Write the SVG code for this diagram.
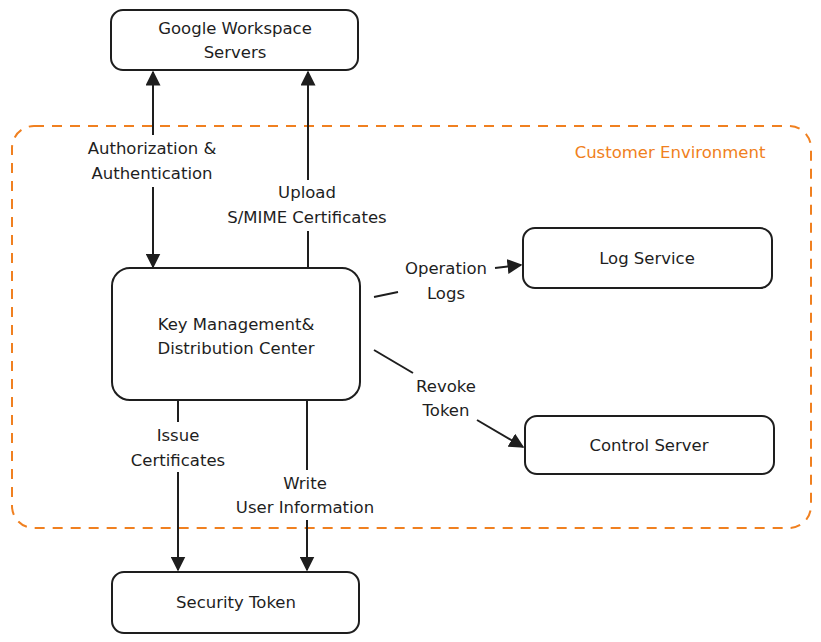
<svg xmlns="http://www.w3.org/2000/svg" width="821" height="642" viewBox="0 0 821 642">
<defs>
<style>
.node{fill:#fff;stroke:#1e1e1e;stroke-width:2}
.t{font-family:"DejaVu Sans","Liberation Sans",sans-serif;font-size:16.5px;fill:#1e1e1e;text-anchor:middle}
.edge{stroke:#1e1e1e;stroke-width:2;fill:none}
.env{fill:none;stroke:#f08020;stroke-width:2;stroke-dasharray:10 8}
</style>
<marker id="ah" viewBox="0 0 10 10" refX="9" refY="5" markerWidth="7.5" markerHeight="7.5" orient="auto-start-reverse" markerUnits="strokeWidth">
<path d="M0,0 L10,5 L0,10 z" fill="#1e1e1e"/>
</marker>
</defs>
<rect width="821" height="642" fill="#fff"/>
<g id="customer-environment">
<rect class="env" x="12" y="126" width="799" height="402" rx="22"/>
<text x="670" y="158" class="t" style="fill:#f08020">Customer Environment</text>
</g>
<g id="google-workspace">
<rect class="node" x="111" y="10" width="247" height="60" rx="12"/>
<text class="t" x="235" y="34">Google Workspace</text>
<text class="t" x="235" y="58">Servers</text>
</g>
<g id="kmdc">
<rect class="node" x="112" y="268" width="248" height="132" rx="18"/>
<text class="t" x="236" y="330">Key Management&amp;</text>
<text class="t" x="236" y="354">Distribution Center</text>
</g>
<g id="log-service">
<rect class="node" x="523" y="228" width="249" height="60" rx="12"/>
<text class="t" x="647" y="264">Log Service</text>
</g>
<g id="control-server">
<rect class="node" x="525" y="416" width="249" height="58" rx="12"/>
<text class="t" x="649" y="451">Control Server</text>
</g>
<g id="security-token">
<rect class="node" x="112" y="572" width="247" height="61" rx="12"/>
<text class="t" x="236" y="608">Security Token</text>
</g>
<g id="connectors">
<path class="edge" d="M153,72 L153,135" marker-start="url(#ah)"/>
<path class="edge" d="M153,187 L153,267" marker-end="url(#ah)"/>
<text class="t" x="152" y="154">Authorization &amp;</text>
<text class="t" x="152" y="179">Authentication</text>
<path class="edge" d="M308,180 L308,72" marker-end="url(#ah)"/>
<path class="edge" d="M308,267 L308,231"/>
<text class="t" x="307" y="198">Upload</text>
<text class="t" x="307" y="223">S/MIME Certificates</text>
<path class="edge" d="M374,297 L398,292"/>
<path class="edge" d="M495,268 L521,265" marker-end="url(#ah)"/>
<text class="t" x="446" y="274">Operation</text>
<text class="t" x="446" y="299">Logs</text>
<path class="edge" d="M374,350 L413,373"/>
<path class="edge" d="M477,420 L523,447" marker-end="url(#ah)"/>
<text class="t" x="446" y="392">Revoke</text>
<text class="t" x="446" y="416">Token</text>
<path class="edge" d="M178,401 L178,422"/>
<path class="edge" d="M178,472 L178,570" marker-end="url(#ah)"/>
<text class="t" x="178" y="441">Issue</text>
<text class="t" x="178" y="466">Certificates</text>
<path class="edge" d="M307,401 L307,470"/>
<path class="edge" d="M307,520 L307,570" marker-end="url(#ah)"/>
<text class="t" x="305" y="489">Write</text>
<text class="t" x="305" y="513">User Information</text>
</g>
</svg>
